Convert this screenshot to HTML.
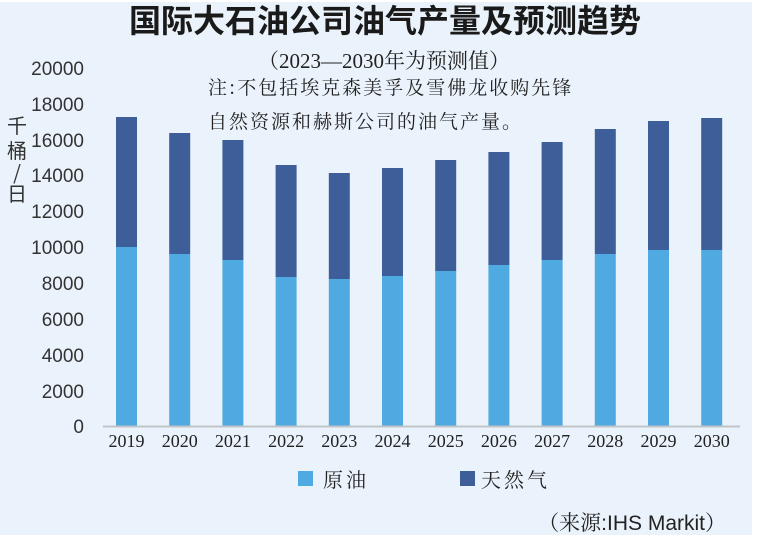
<!DOCTYPE html>
<html><head><meta charset="utf-8"><style>
body{margin:0;width:768px;height:535px;background:#fff;overflow:hidden}
</style></head><body>
<svg width="768" height="535" xmlns="http://www.w3.org/2000/svg">
<rect x="0" y="2" width="752" height="533" fill="#eaf3fb"/>
<text x="385" y="32" text-anchor="middle" font-family="Liberation Sans, Noto Sans CJK SC, sans-serif" font-size="32" font-weight="bold" fill="#1a1a1a">国际大石油公司油气产量及预测趋势</text>
<text x="384" y="68" text-anchor="middle" font-family="Liberation Serif, Noto Serif CJK SC, serif" font-size="21" fill="#222">（2023—2030年为预测值）</text>
<text x="208" y="94" font-family="Noto Serif CJK SC, serif" font-size="19" letter-spacing="2" fill="#222">注:不包括埃克森美孚及雪佛龙收购先锋</text>
<text x="208" y="128" font-family="Noto Serif CJK SC, serif" font-size="19" letter-spacing="2" fill="#222">自然资源和赫斯公司的油气产量。</text>
<g font-family="Liberation Sans, sans-serif" font-size="19" fill="#333" text-anchor="end">
<text x="84" y="75">20000</text><text x="84" y="111">18000</text><text x="84" y="147">16000</text><text x="84" y="182">14000</text><text x="84" y="218">12000</text><text x="84" y="254">10000</text><text x="84" y="290">8000</text><text x="84" y="326">6000</text><text x="84" y="362">4000</text><text x="84" y="398">2000</text><text x="84" y="433">0</text>
</g>
<g font-family="Noto Sans CJK SC, sans-serif" font-size="20" fill="#333" text-anchor="middle">
<text x="17" y="133">千</text><text x="17" y="158">桶</text><text x="17" y="180">/</text><text x="17" y="201">日</text>
</g>
<g id="bars"></g>
<line x1="103" y1="426.5" x2="740" y2="426.5" stroke="#c0c4c8" stroke-width="2"/>
<g font-family="Liberation Serif, serif" font-size="18" fill="#222" text-anchor="middle" id="xl"></g>
<rect x="298" y="471" width="15" height="15" fill="#4faae2"/>
<text x="323" y="487" font-family="Noto Serif CJK SC, serif" font-size="20" letter-spacing="3" fill="#222">原油</text>
<rect x="460" y="471" width="15" height="15" fill="#3d5e98"/>
<text x="481" y="487" font-family="Noto Serif CJK SC, serif" font-size="20" letter-spacing="3" fill="#222">天然气</text>
<text x="726" y="530" text-anchor="end" font-family="Liberation Sans, Noto Serif CJK SC, sans-serif" font-size="21" fill="#222">（来源:IHS Markit）</text>
</svg>
<script>
const tops=[117,133,140,165,173,168,160,152,142,129,121,118];
const oil=[247,254,260,277,279,276,271,265,260,254,250,250];
const g=document.getElementById('bars'),xl=document.getElementById('xl');
const ns='http://www.w3.org/2000/svg';
for(let i=0;i<12;i++){
 const x=116+i*53.2;
 let r=document.createElementNS(ns,'rect');r.setAttribute('x',x);r.setAttribute('y',tops[i]);r.setAttribute('width',21);r.setAttribute('height',oil[i]-tops[i]);r.setAttribute('fill','#3d5e98');g.appendChild(r);
 r=document.createElementNS(ns,'rect');r.setAttribute('x',x);r.setAttribute('y',oil[i]);r.setAttribute('width',21);r.setAttribute('height',426-oil[i]);r.setAttribute('fill','#4faae2');g.appendChild(r);
 const t=document.createElementNS(ns,'text');t.setAttribute('x',x+10.5);t.setAttribute('y',447);t.textContent=2019+i;xl.appendChild(t);
}
</script>
</body></html>
